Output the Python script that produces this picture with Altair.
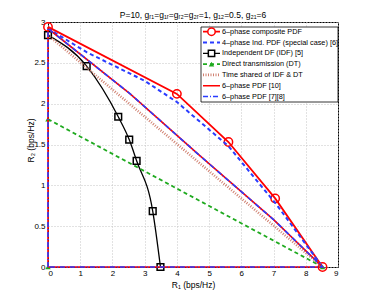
import altair as alt
import pandas as pd

# ---- data ----
comp_x = [0.0, 4.0, 5.6, 7.05, 8.52]
comp_y = [2.94, 2.12, 1.53, 0.84, 0.0]

ind4_x = [0.0, 1.2, 3.0, 4.0, 5.6, 7.1, 8.52]
ind4_y = [2.92, 2.63, 2.28, 2.02, 1.48, 0.76, 0.0]

idf_x = [0.0, 1.2, 2.18, 2.52, 2.75, 3.25, 3.49]
idf_y = [2.84, 2.46, 1.84, 1.56, 1.30, 0.685, 0.0]

dt_x = [0.0, 8.52]
dt_y = [1.81, 0.0]
dt_mark_x = [0.0, 0.0, 8.52]
dt_mark_y = [1.81, 0.0, 0.0]

ts_x = [0.0, 8.52]
ts_y = [2.84, 0.0]

pdf10_x = [0.0, 0.0, 2.55, 4.72, 7.0, 8.52, 0.0]
pdf10_y = [0.0, 2.92, 2.12, 1.36, 0.58, 0.0, 0.0]

pdf78_x = [0.0, 0.0, 2.55, 4.72, 7.0, 8.52, 0.0]
pdf78_y = [0.0, 2.92, 2.12, 1.36, 0.58, 0.0, 0.0]

legend_labels = [
    "6\u2013phase composite PDF",
    "4\u2013phase Ind. PDF (special case) [6]",
    "Independent DF (IDF) [5]",
    "Direct transmission (DT)",
    "Time shared of IDF & DT",
    "6\u2013phase PDF [10]",
    "6\u2013phase PDF [7][8]",
]
x_ticks = [0, 1, 2, 3, 4, 5, 6, 7, 8, 9]
y_ticks = [0, 0.5, 1, 1.5, 2, 2.5, 3]

title_text = "P=10, g\u1d63\u2081=g\u2081\u1d63=g\u1d63\u2082=g\u2082\u1d63=1, g\u2081\u2082=0.5, g\u2082\u2081=6"

# ---- styles ----
RED = "#ff0000"
BLUE = "#2a3cff"
BLACK = "#000000"
GREEN = "#1faa1f"
SALMON = "#d08070"
FONT = "Liberation Sans"

W, H = 290, 245

xsc = alt.Scale(domain=[0, 9], nice=False, zero=False)
ysc = alt.Scale(domain=[0, 3], nice=False, zero=False)

x_axis = alt.Axis(values=x_ticks, grid=True, gridDash=[1, 2], gridColor="#c4c4c4",
                  domain=False, ticks=False, labelFontSize=8, labelFont=FONT,
                  labelColor="black", labelPadding=2, title="R\u2081 (bps/Hz)",
                  titleFont=FONT, titleFontSize=8.5, titleFontWeight="normal",
                  titleColor="black", titleY=13, titleBaseline="top")
y_axis = alt.Axis(values=y_ticks, format="~g", grid=True, gridDash=[1, 2], gridColor="#c4c4c4",
                  domain=False, ticks=False, labelFontSize=8, labelFont=FONT,
                  labelColor="black", labelPadding=3, title="R\u2082 (bps/Hz)",
                  titleFont=FONT, titleFontSize=8.5, titleFontWeight="normal",
                  titleColor="black", titleX=-13, titleY=118, titleAngle=-90)


def path(xs, ys):
    return pd.DataFrame({"x": xs, "y": ys, "o": list(range(len(xs)))})


def line(xs, ys, color, width, dash=None, interp="linear"):
    kw = dict(color=color, strokeWidth=width, interpolate=interp)
    if dash:
        kw["strokeDash"] = dash
    return alt.Chart(path(xs, ys)).mark_line(**kw).encode(
        x=alt.X("x:Q", scale=xsc, axis=x_axis),
        y=alt.Y("y:Q", scale=ysc, axis=y_axis),
        order="o:Q",
    )


def points(xs, ys, shape, color, size, filled):
    kw = dict(shape=shape, size=size, filled=filled, opacity=1)
    if filled:
        kw["color"] = color
    else:
        kw.update(stroke=color, fill=None, strokeWidth=1.5)
    return alt.Chart(path(xs, ys)).mark_point(**kw).encode(
        x=alt.X("x:Q", scale=xsc, axis=x_axis),
        y=alt.Y("y:Q", scale=ysc, axis=y_axis),
    )


layers = [
    line(comp_x, comp_y, RED, 1.8),
    points(comp_x, comp_y, "circle", RED, 70, False),
    line(ind4_x, ind4_y, BLUE, 2, [4, 3]),
    line(idf_x, idf_y, BLACK, 1.3, None, "monotone"),
    points(idf_x, idf_y, "square", BLACK, 45, False),
    line(dt_x, dt_y, GREEN, 1.8, [4, 3]),
    points(dt_mark_x, dt_mark_y, "triangle-up", GREEN, 30, True),
    line(ts_x, ts_y, SALMON, 2.6, [1, 1.5]),
    line(pdf10_x, pdf10_y, RED, 1.6),
    line(pdf78_x, pdf78_y, BLUE, 1.6, [5, 2, 1, 2]),
]

# ---- legend (drawn inside the plot, top-right) ----
LX0, LX1, LY0, LY1 = 153, 290, 5, 80
ROW0, ROWH = 9.7, 10.8
SX0, SX1, TX = 155, 172, 174

leg = pd.DataFrame({"label": legend_labels, "row": list(range(len(legend_labels)))})
leg_colors = [RED, BLUE, BLACK, GREEN, SALMON, RED, BLUE]
leg_dash = [[1, 0], [4, 3], [1, 0], [4, 3], [1, 1.5], [1, 0], [5, 2, 1, 2]]
leg_width = [1.8, 2, 1.3, 1.8, 2.6, 1.6, 1.6]

box = alt.Chart(pd.DataFrame({"a": [0]})).mark_rect(
    fill="white", stroke="black", strokeWidth=0.8
).encode(x=alt.value(LX0), x2=alt.value(LX1), y=alt.value(LY0), y2=alt.value(LY1))
layers.append(box)

for i in range(len(legend_labels)):
    yy = ROW0 + i * ROWH
    layers.append(
        alt.Chart(pd.DataFrame({"a": [0]})).mark_rule(
            color=leg_colors[i], strokeWidth=leg_width[i], strokeDash=leg_dash[i]
        ).encode(x=alt.value(SX0), x2=alt.value(SX1), y=alt.value(yy))
    )

marker_specs = {0: ("circle", RED, 55, False), 2: ("square", BLACK, 40, False),
                3: ("triangle-up", GREEN, 30, True)}
for i, (shape, color, size, filled) in marker_specs.items():
    kw = dict(shape=shape, size=size, filled=filled, opacity=1)
    if filled:
        kw["color"] = color
    else:
        kw.update(stroke=color, fill="white", strokeWidth=1.5)
    layers.append(
        alt.Chart(pd.DataFrame({"a": [0]})).mark_point(**kw).encode(
            x=alt.value((SX0 + SX1) / 2), y=alt.value(ROW0 + i * ROWH))
    )

legend_text = alt.Chart(leg).transform_calculate(
    py=f"{ROW0} + datum.row * {ROWH}"
).mark_text(align="left", baseline="middle", font=FONT, fontSize=7.3, color="black").encode(
    x=alt.value(TX), y=alt.Y("py:Q", scale=None), text="label:N"
)
layers.append(legend_text)

chart = alt.layer(*layers).properties(
    width=W, height=H,
    title=alt.TitleParams(title_text, font=FONT, fontSize=8.5, fontWeight="normal",
                          color="black", anchor="middle", offset=4, dy=5),
    padding={"left": 40, "top": 14, "right": 20, "bottom": 30},
    autosize=alt.AutoSizeParams(type="none"),
    background="white",
).configure_view(stroke="black", strokeWidth=1)

chart.save("out.html", embed_options={"renderer": "svg", "actions": False})
